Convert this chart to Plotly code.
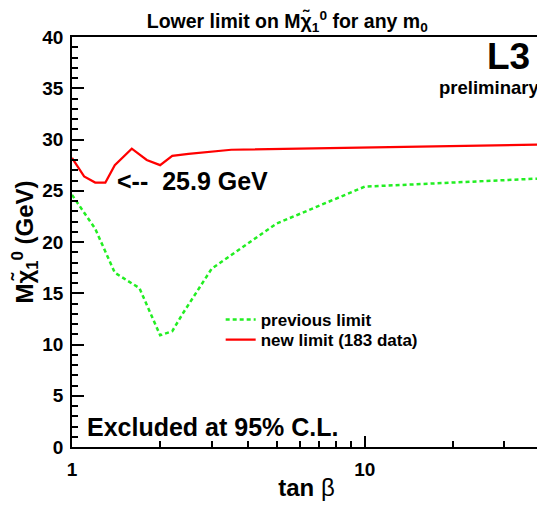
import plotly.graph_objects as go

# data
tanb_new = [1.0, 1.1, 1.2, 1.3, 1.4, 1.6, 1.8, 2.0, 2.2, 2.5, 3.5, 40.0]
m_new = [28.2, 26.4, 25.8, 25.8, 27.5, 29.1, 28.0, 27.5, 28.4, 28.6, 29.0, 29.5]

tanb_prev = [1.0, 1.2, 1.4, 1.7, 2.0, 2.2, 2.4, 3.0, 5.0, 10.0, 40.0]
m_prev = [24.6, 21.3, 17.0, 15.5, 10.9, 11.3, 13.1, 17.4, 21.8, 25.4, 26.2]

x_ticks = [1, 10]
x_minor = [2, 3, 4, 5, 6, 7, 8, 9, 20, 30, 40]

FONT = "Liberation Sans, Arial, Helvetica, sans-serif"

fig = go.Figure()
fig.add_trace(go.Scatter(x=tanb_prev, y=m_prev, mode="lines", name="previous limit",
                         legend="legend",
                         line=dict(color="#22ee22", width=2.5, dash="4px,3px")))
fig.add_trace(go.Scatter(x=tanb_new, y=m_new, mode="lines", name="new limit (183 data)",
                         legend="legend2",
                         line=dict(color="#ff0000", width=2.2)))

leg_common = dict(xanchor="left", yanchor="middle",
                  font=dict(size=17, family=FONT, weight="bold"),
                  bgcolor="rgba(0,0,0,0)", itemwidth=30)

fig.update_layout(
    width=537, height=493,
    margin=dict(l=64, r=2, t=29, b=54),
    paper_bgcolor="white", plot_bgcolor="white",
    font=dict(family=FONT, color="black"),
    showlegend=True,
    legend=dict(x=0.317, y=0.31, **leg_common),
    legend2=dict(x=0.317, y=0.261, **leg_common),
    title=dict(text="Lower limit on M\u03c7\u0303<sub>1</sub><sup>0</sup> for any m<sub>0</sub>",
               x=0.52, xanchor="center", y=1 - 13 / 493, yanchor="middle",
               font=dict(size=19.5, family=FONT, weight="bold")),
)
fig.update_xaxes(type="log", range=[0, 1.602], showgrid=False, zeroline=False,
                 showline=True, linecolor="black", linewidth=1.5, mirror=True,
                 ticks="inside", ticklen=11, tickwidth=1.5, tickcolor="black",
                 tickmode="array", tickvals=x_ticks, ticktext=[str(v) for v in x_ticks],
                 tickfont=dict(size=19, family=FONT, weight="bold"),
                 ticklabelstandoff=4,
                 minor=dict(ticks="inside", ticklen=6, tickwidth=1.5, tickcolor="black",
                            tickmode="array", tickvals=x_minor, showgrid=False),
                 title=dict(text="<b>tan</b> \u03b2", font=dict(size=24, family=FONT), standoff=1))
fig.update_yaxes(range=[0, 40], showgrid=False, zeroline=False,
                 showline=True, linecolor="black", linewidth=1.5, mirror=True,
                 ticks="inside", ticklen=12, tickwidth=1.5, tickcolor="black",
                 dtick=5, tick0=0,
                 tickfont=dict(size=19, family=FONT, weight="bold"),
                 ticklabelstandoff=3,
                 minor=dict(ticks="inside", ticklen=6, tickwidth=1.5, tickcolor="black",
                            dtick=1, showgrid=False),
                 title=dict(text="M\u03c7\u0303<sub>1</sub><sup>0</sup> (GeV)",
                            font=dict(size=24, family=FONT, weight="bold"), standoff=12))

fig.add_annotation(xref="paper", yref="paper", x=0.98, y=0.952, xanchor="right", yanchor="middle",
                   text="<b>L3</b>", showarrow=False, font=dict(size=37, family=FONT))
fig.add_annotation(xref="paper", yref="paper", x=0.999, y=0.876, xanchor="right", yanchor="middle",
                   text="<b>preliminary</b>", showarrow=False, font=dict(size=18.5, family=FONT))
fig.add_annotation(xref="paper", yref="paper", x=0.0913, y=0.649, xanchor="left", yanchor="middle",
                   text="<b>&lt;--&nbsp;&nbsp;25.9 GeV</b>", showarrow=False,
                   font=dict(size=25, family=FONT))
fig.add_annotation(xref="paper", yref="paper", x=0.028, y=0.05, xanchor="left", yanchor="middle",
                   text="<b>Excluded at 95% C.L.</b>", showarrow=False, font=dict(size=25, family=FONT))

fig.write_html("out.html")
